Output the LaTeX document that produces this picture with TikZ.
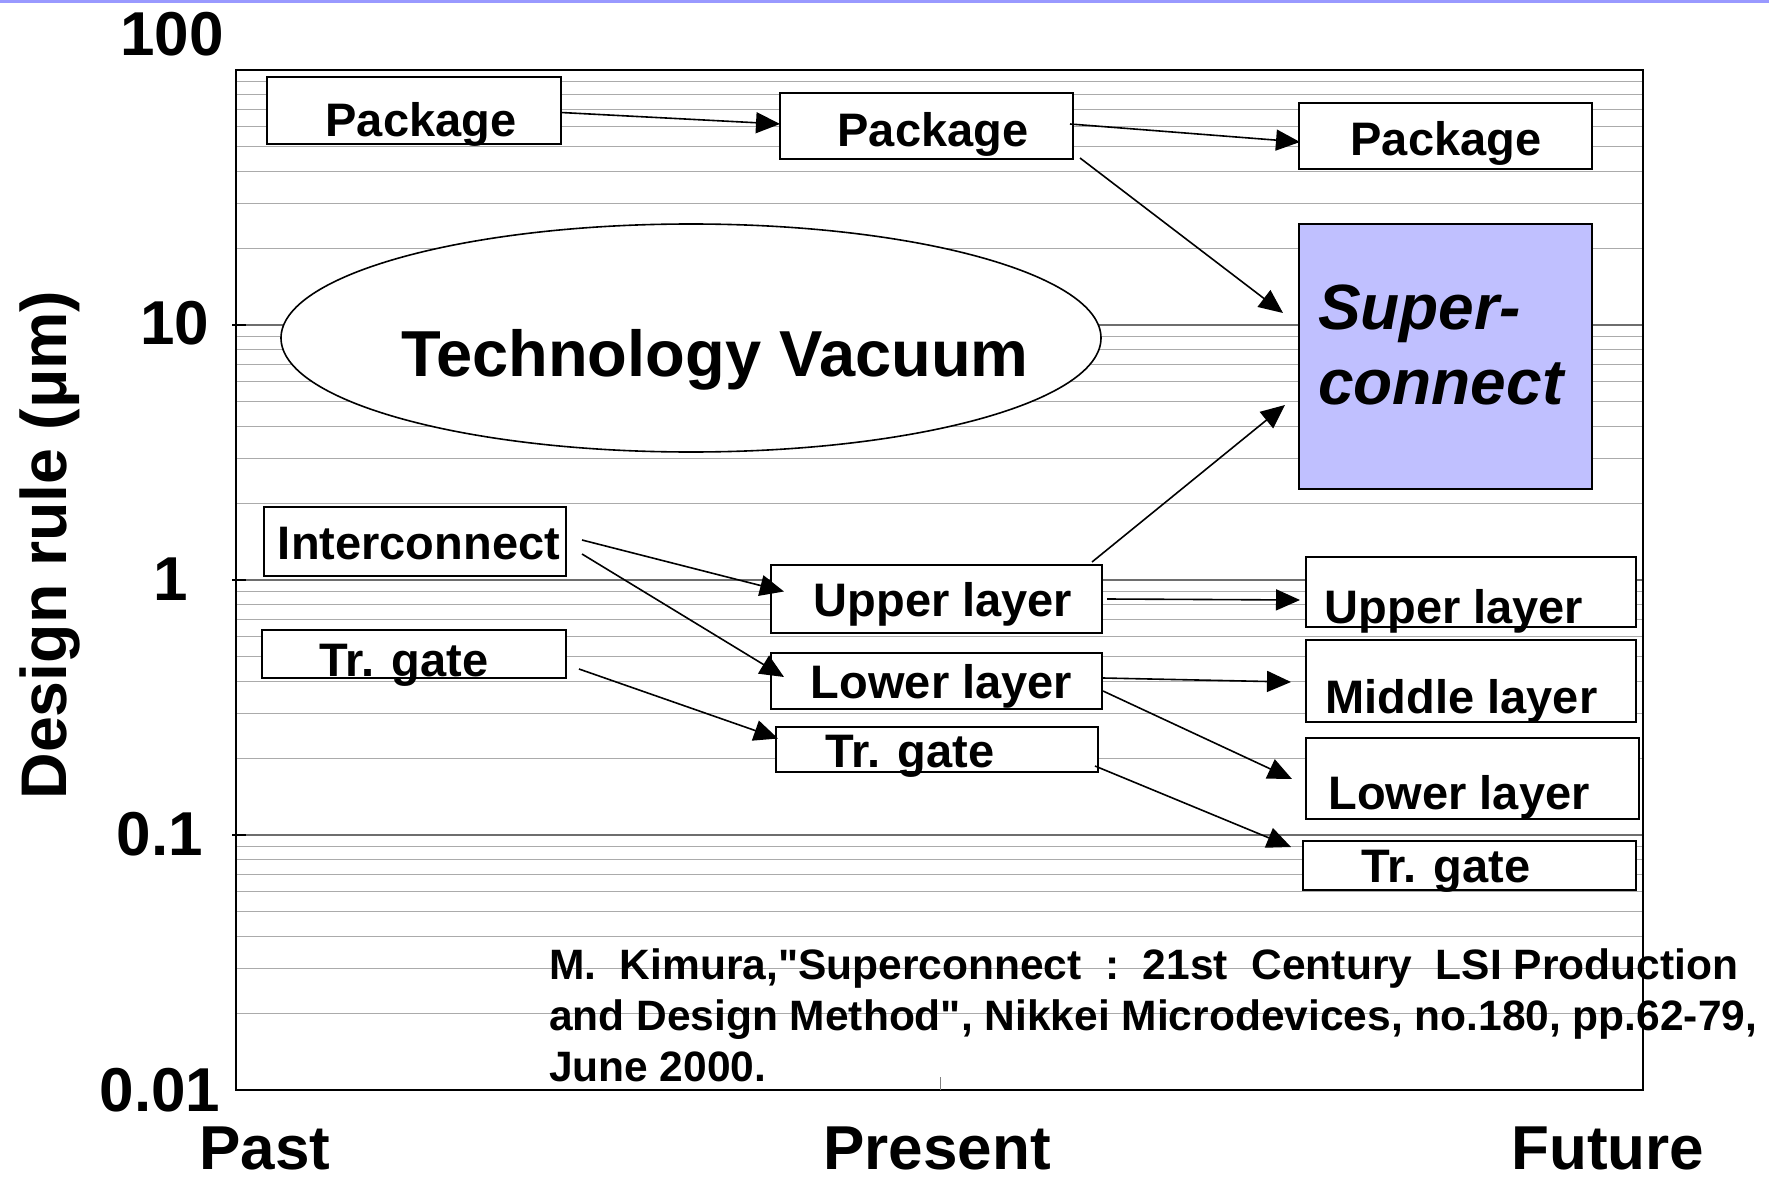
\documentclass[tikz,border=0pt]{standalone}
\usepackage{fontspec}
\setmainfont{Liberation Sans}
\newfontfamily\plainfont{Liberation Sans}
\usetikzlibrary{arrows.meta,shapes.geometric,calc}
\definecolor{scfill}{HTML}{C0C0FF}
\definecolor{topband}{HTML}{9999FF}
\definecolor{minorgrid}{HTML}{ABABAB}
\definecolor{majorgrid}{HTML}{6E6E6E}
\newcommand\fsz[1]{\fontsize{#1}{#1}\selectfont}
\tikzset{
  bx/.style={draw=black, line width=1.8pt, fill=white, inner sep=0pt, outer sep=0pt, anchor=north west},
  tx/.style={inner sep=0pt, outer sep=0pt, anchor=base, font=\fsz{47}\bfseries},
  big/.style={tx, font=\fsz{65}\bfseries},
  axl/.style={tx, font=\fsz{62}\bfseries},
  cite/.style={inner sep=0pt, outer sep=0pt, anchor=base west, font=\plainfont\fsz{42.5}\bfseries},
  arr/.style={line width=1.6pt, -{Triangle[length=24pt,width=21pt]}},
}
\begin{document}
\begin{tikzpicture}[x=1pt,y=-1pt]
\useasboundingbox (0,0) rectangle (1769,1182);
\fill[white] (0,0) rectangle (1769,1182);
\fill[topband] (0,0) rectangle (1769,3.5);

% grid
\foreach \d in {0,1,2,3}{
  \foreach \k in {2,...,9}{
    \pgfmathsetmacro\yy{1090-255*(\d+log10(\k))}
    \draw[minorgrid, line width=1.2pt] (236,\yy) -- (1643,\yy);
  }
}
\foreach \yy in {325,580,835}{
  \draw[majorgrid, line width=1.5pt] (236,\yy) -- (1643,\yy);
  \draw[black, line width=1.5pt] (232,\yy) -- (246,\yy);
}
\draw[line width=2pt] (236,70) rectangle (1643,1090);
\draw[gray, line width=1pt] (940,1077) -- (940,1090);

% axis labels
\node[axl] (y100) at (172,56) {100};
\node[axl] (y10) at (175,344) {10};
\node[axl] (y1) at (171,600) {1};
\node[axl] (y01) at (160,855) {0.1};
\node[axl] (y001) at (160,1111) {0.01};
\node[axl, font=\fsz{64.5}\bfseries, rotate=90] (ytitle) at (66,545) {Design rule (μm)};
\node[axl] (past) at (265,1169) {Past};
\node[axl] (present) at (937,1169) {Present};
\node[axl] (future) at (1608,1169) {Future};

% ellipse
\node[ellipse, draw=black, line width=1.6pt, fill=white, minimum width=820pt, minimum height=228pt, inner sep=0pt] (vac) at (691,338) {};
\node[big] (vact) at (715,376) {Technology Vacuum};

% boxes
\node[bx, minimum width=294pt, minimum height=67pt] (pkg1) at (267,77) {};
\node[bx, minimum width=293pt, minimum height=66pt] (pkg2) at (780,93) {};
\node[bx, minimum width=293pt, minimum height=66pt] (pkg3) at (1299,103) {};
\node[bx, fill=scfill, minimum width=293pt, minimum height=265pt] (sc) at (1299,224) {};
\node[bx, minimum width=302pt, minimum height=69pt] (ic) at (264,507) {};
\node[bx, minimum width=304pt, minimum height=48pt] (tg1) at (262,630) {};
\node[bx, minimum width=331pt, minimum height=68pt] (up2) at (771,565) {};
\node[bx, minimum width=331pt, minimum height=56pt] (lo2) at (771,653) {};
\node[bx, minimum width=322pt, minimum height=45pt] (tg2) at (776,727) {};
\node[bx, minimum width=330pt, minimum height=70pt] (up3) at (1306,557) {};
\node[bx, minimum width=330pt, minimum height=82pt] (mid3) at (1306,640) {};
\node[bx, minimum width=333pt, minimum height=81pt] (lo3) at (1306,738) {};
\node[bx, minimum width=333pt, minimum height=49pt] (tg3) at (1303,841) {};

% box texts
\node[tx] (pkg1t) at (421,137) {Package};
\node[tx] (pkg2t) at (933,147) {Package};
\node[tx] (pkg3t) at (1446,156) {Package};
\node[tx, font=\fsz{64}\bfseries\itshape, anchor=base west] (sct1) at (1318,329) {Super-};
\node[tx, font=\fsz{64}\bfseries\itshape, anchor=base west] (sct2) at (1318,404) {connect};
\node[tx] (ict) at (419,559) {Interconnect};
\node[tx] (tg1t) at (404,676) {Tr. gate};
\node[tx] (up2t) at (943,616) {Upper layer};
\node[tx] (lo2t) at (941.5,698) {Lower layer};
\node[tx] (tg2t) at (910,767) {Tr. gate};
\node[tx] (up3t) at (1454,623) {Upper layer};
\node[tx] (mid3t) at (1461.5,713) {Middle layer};
\node[tx] (lo3t) at (1459,809) {Lower layer};
\node[tx] (tg3t) at (1446,882) {Tr. gate};

% citation
\node[cite] (cite1) at (549,979) {M.\ \ Kimura,"Superconnect\ \ :\ \ 21st\ \ Century\ \ LSI Production};
\node[cite] (cite2) at (549,1030) {and Design Method", Nikkei Microdevices, no.180, pp.62-79,};
\node[cite] (cite3) at (549,1081) {June 2000.};

% arrows
\draw[arr] ([shift={(0,2)}]pkg1.east) -- ([shift={(0,-2)}]pkg2.west);
\draw[arr] ([shift={(-3,-2)}]pkg2.east) -- ([shift={(1,6)}]pkg3.west);
\draw[arr] ([shift={(7,-1)}]pkg2.south east) -- ([shift={(-16,-43.5)}]sc.west);
\draw[arr] ([shift={(-10,-3)}]up2.north east) -- ([shift={(-14,48.5)}]sc.west);
\draw[arr] ([shift={(16,-1.5)}]ic.east) -- ([shift={(13,-7.5)}]up2.west);
\draw[arr] ([shift={(16,12.5)}]ic.east) -- ([shift={(13,-4)}]lo2.west);
\draw[arr] ([shift={(13,15)}]tg1.east) -- ([shift={(2,-11)}]tg2.west);
\draw[arr] ([shift={(5,0)}]up2.east) -- ([shift={(-6,8)}]up3.west);
\draw[arr] ([shift={(1,-3)}]lo2.east) -- ([shift={(-15,1)}]mid3.west);
\draw[arr] ([shift={(1,10)}]lo2.east) -- ([shift={(-14,0.5)}]lo3.west);
\draw[arr] ([shift={(-3,-6)}]tg2.south east) -- ([shift={(-12,-18.5)}]tg3.west);
\end{tikzpicture}
\end{document}
